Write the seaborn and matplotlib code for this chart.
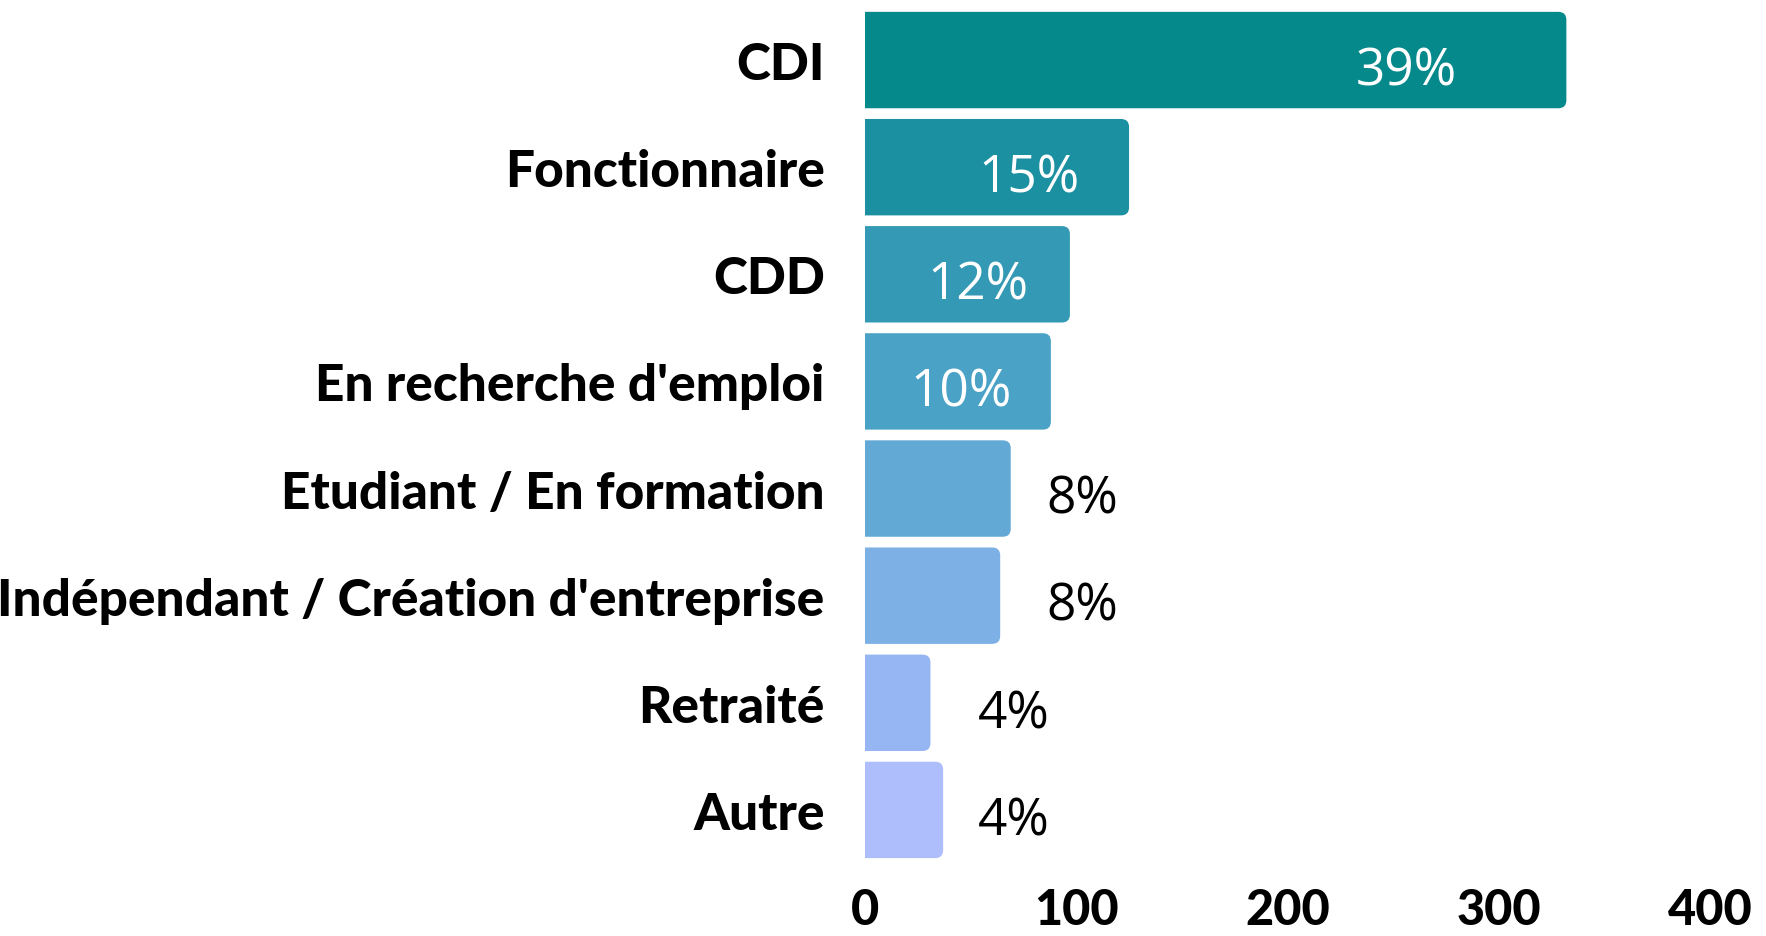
import numpy as np
import pandas as pd
import matplotlib
matplotlib.use("Agg")
import matplotlib.pyplot as plt
from matplotlib.patches import FancyBboxPatch
import seaborn as sns

# data
categories = ["CDI", "Fonctionnaire", "CDD", "En recherche d'emploi",
              "Etudiant / En formation", "Indépendant / Création d'entreprise",
              "Retraité", "Autre"]
counts = [332, 125, 97, 88, 69, 64, 31, 37]
pct_values = [39, 15, 12, 10, 8, 8, 4, 4]
bar_colors = ["#06898A", "#1B90A1", "#3399B5", "#4AA3C6",
              "#62A9D5", "#7DB0E5", "#96B6F3", "#AEBEFD"]
x_ticks = [0, 100, 200, 300, 400]

df = pd.DataFrame({"category": categories, "count": counts})

sns.set_theme(style="white")
plt.rcParams["font.family"] = ["Lato", "DejaVu Sans"]
plt.rcParams["text.color"] = "black"
plt.rcParams["xtick.color"] = "black"
plt.rcParams["ytick.color"] = "black"

fig = plt.figure(figsize=(17.66, 9.37), dpi=100)
ax = fig.add_axes([0.4898, 0.0774, 0.4785, 0.9146])

sns.barplot(data=df, x="count", y="category", hue="category",
            palette=bar_colors, saturation=1, legend=False, width=0.9, ax=ax)

ax.set_xlim(0, 400)
ax.set_ylim(len(categories) - 0.5, -0.5)
fig.canvas.draw()

# swap plain bars for ones with rounded right corners
bbox = ax.get_window_extent()
px_x = bbox.width / 400.0
px_y = bbox.height / len(categories)
radius_px = 8
r = radius_px / px_x
aspect = (radius_px / px_y) / r
for bar in list(ax.patches):
    x, y = bar.get_x(), bar.get_y()
    w, h = bar.get_width(), bar.get_height()
    color = bar.get_facecolor()
    bar.remove()
    rounded = FancyBboxPatch((x - 2 * r, y), w + 2 * r, h,
                             boxstyle=f"round,pad=0,rounding_size={r}",
                             mutation_aspect=aspect, facecolor=color,
                             edgecolor="none", clip_on=True)
    ax.add_patch(rounded)

# value labels: white inside long bars, black outside short ones
for i, (v, p) in enumerate(zip(counts, pct_values)):
    if v > 80:
        lx, col = 0.863 * v - 30.4, "white"
    else:
        lx, col = 38 + 8.1 * p, "black"
    ax.text(lx, i + 0.1, f"{p}%", ha="center", va="center",
            color=col, fontsize=37, family=["Open Sans", "DejaVu Sans"])

ax.set_xticks(x_ticks)
ax.set_xticklabels([str(t) for t in x_ticks], fontsize=35, fontweight="black")
ax.set_yticks(range(len(categories)))
ax.set_yticklabels(categories, fontsize=37, fontweight="black")
ax.tick_params(axis="y", length=0, pad=29)
ax.tick_params(axis="x", length=0, pad=17)
ax.set_xlabel("")
ax.set_ylabel("")
sns.despine(ax=ax, left=True, bottom=True)

fig.savefig("out.png", dpi=100, facecolor="white")
